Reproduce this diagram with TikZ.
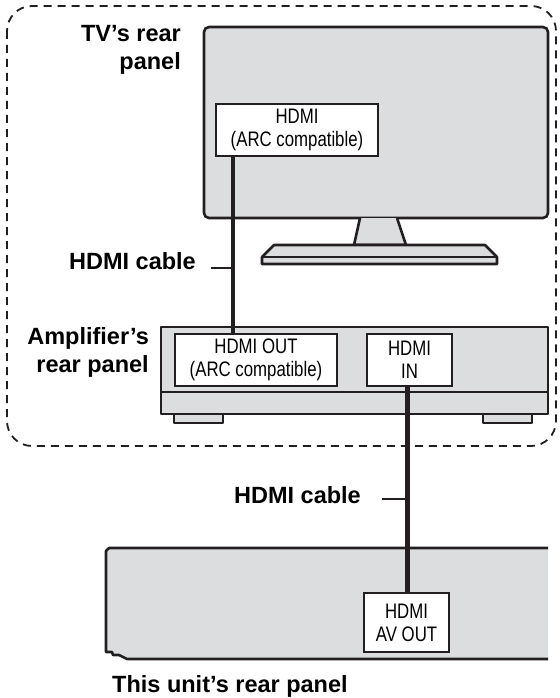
\documentclass[tikz,border=0pt]{standalone}
\usepackage{fontspec}
\setmainfont{Liberation Sans}
\newfontfamily\narrowfont[FakeStretch=0.8]{Liberation Sans}
\usetikzlibrary{positioning}
\definecolor{panelgray}{HTML}{DCDDDF}
\definecolor{ink}{HTML}{231F20}
\tikzset{
    panel/.style={draw=ink, fill=panelgray, line width=2.6pt, line join=round},
    port/.style={draw=ink, fill=white, line width=2.2pt, inner sep=0pt, align=center,
        font=\narrowfont\fontsize{21}{23}\selectfont},
    lbl/.style={inner sep=0pt, align=right, font=\bfseries\fontsize{23.5}{28}\selectfont},
    cable/.style={draw=ink, line width=4.5pt},
    tick/.style={draw=ink, line width=2pt}
}
\begin{document}
\begin{tikzpicture}[x=1pt, y=-1pt]
    \useasboundingbox (0,0) rectangle (559,698);

    % Recuadro de la TV y el amplificador
    \draw[ink, line width=1.8pt, dash pattern=on 8pt off 6pt, rounded corners=25pt]
        (7,6) rectangle (556,446);

    % TV
    \draw[panel, rounded corners=5pt] (204,27) rectangle (548,218);
    \draw[panel] (360,218) -- (354,245) -- (406,245) -- (397,218);
    \draw[panel] (274,245) -- (485,245) -- (497,257) -- (497,264) -- (262,264) -- (262,257) -- cycle;
    \draw[ink, line width=2.2pt] (262,257) -- (497,257);
    \node[port, minimum width=162pt, minimum height=52pt] (tvhdmi) at (297,130) {HDMI\\(ARC compatible)};
    \node[lbl, anchor=north east] (tvlbl) at (181,25) {TV’s rear\\panel};

    % Amplificador
    \draw[panel] (174,410) rectangle (223,423);
    \draw[panel] (483,410) rectangle (532,423);
    \draw[panel] (161,327) rectangle (548,414);
    \draw[ink, line width=2.6pt] (161,392) -- (548,392);
    \node[port, minimum width=162pt, minimum height=52pt] (ampout) at (256,360) {HDMI OUT\\(ARC compatible)};
    \node[port, minimum width=85pt, minimum height=52pt] (ampin) at (409.5,360) {HDMI\\IN};
    \node[lbl, anchor=north east] (amplbl) at (149,327) {Amplifier’s\\rear panel};

    % Esta unidad
    \fill[panelgray] (548,548) -- (109,548) -- (106,551) -- (106,652) -- (112,652) -- (113,655)
        -- (119,655) -- (127,659) -- (548,659) -- cycle;
    \draw[ink, line width=2.6pt, line join=round] (548,548) -- (109,548) -- (106,551) -- (106,652)
        -- (112,652) -- (113,655) -- (119,655) -- (127,659) -- (548,659);
    \node[port, minimum width=85pt, minimum height=59pt] (avout) at (406.5,622.5) {HDMI\\AV OUT};
    \node[lbl, anchor=base west] (unitlbl) at (112,692) {This unit’s rear panel};

    % Cables HDMI
    \coordinate (x1) at (233,0);
    \coordinate (x2) at (407.5,0);
    \draw[cable] (tvhdmi.south -| x1) -- (ampout.north -| x1);
    \draw[cable] (ampin.south -| x2) -- (avout.north -| x2);

    \node[lbl, anchor=east] (cablbla) at (196,261) {HDMI cable};
    \coordinate (ticka) at (211,268);
    \draw[tick] (ticka) -- (ticka -| x1);
    \node[lbl, anchor=east] (cablblb) at (361,495) {HDMI cable};
    \coordinate (tickb) at (382,499);
    \draw[tick] (tickb) -- (tickb -| x2);
\end{tikzpicture}
\end{document}
